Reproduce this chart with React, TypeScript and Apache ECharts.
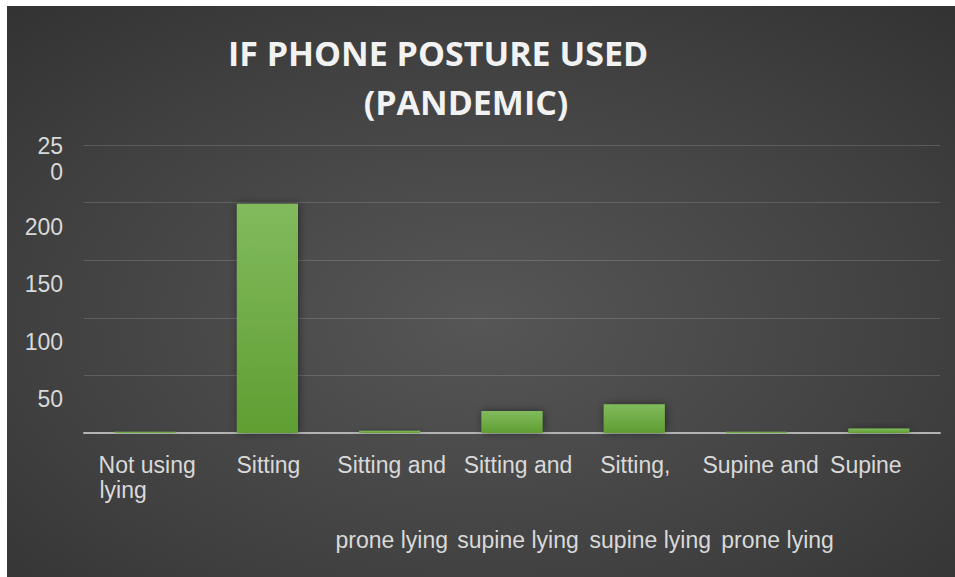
import React, { useEffect, useRef } from "react";
import * as echarts from "echarts";

// Chart content
const TITLE_LINES = ["IF PHONE POSTURE USED", "(PANDEMIC)"];
const CATEGORIES = [
  "Not using\nlying",
  "Sitting",
  "Sitting and\n\n\nprone lying",
  "Sitting and\n\n\nsupine lying",
  "Sitting,\n\n\nsupine lying",
  "Supine and\n\n\nprone lying",
  "Supine",
];
const COUNTS = [1, 199, 2, 19, 25, 1, 4];
const Y_MAX = 250;
const Y_STEP = 50;

// Horizontal nudges (px) for each label line, per category
const LABEL_NUDGE: number[][] = [
  [2, -22],
  [1],
  [2, 0, 0, 2],
  [6, 0, 0, 6],
  [1, 0, 0, 16],
  [4, 0, 0, 21],
  [-13],
];

const LABEL_FONT = "'Liberation Sans', Arial, sans-serif";
const LABEL_COLOR = "#d9d9d9";
const TITLE_FONT = "bold 34px 'Open Sans', sans-serif";

function buildRich() {
  const rich: Record<string, any> = {};
  CATEGORIES.forEach((c, i) => {
    c.split("\n").forEach((line, j) => {
      if (!line) return;
      const d = (LABEL_NUDGE[i] && LABEL_NUDGE[i][j]) || 0;
      rich[`c${i}_${j}`] = {
        fontSize: 23,
        lineHeight: 25,
        color: LABEL_COLOR,
        fontFamily: LABEL_FONT,
        align: "center",
        padding: d >= 0 ? [0, 0, 0, 2 * d] : [0, -2 * d, 0, 0],
      };
    });
  });
  return rich;
}

function formatCategory(value: string, index: number) {
  return value
    .split("\n")
    .map((line, j) => (line ? `{c${index}_${j}|${line}}` : ""))
    .join("\n");
}

// The top value label wraps onto two lines ("25" / "0")
function formatValue(v: number) {
  if (v === 0) return "";
  if (v === Y_MAX) {
    const s = String(v);
    return `{hi|${s.slice(0, 2)}}\n{lo|${s.slice(2)}}`;
  }
  return String(v);
}

export default function App() {
  const ref = useRef<HTMLDivElement>(null);

  useEffect(() => {
    if (!ref.current) return;
    const chart = echarts.init(ref.current, null, { renderer: "svg" });
    chart.setOption({
      animation: false,
      backgroundColor: {
        type: "radial",
        x: 0.5,
        y: 0.55,
        r: 1.0,
        colorStops: [
          { offset: 0, color: "#565656" },
          { offset: 0.5, color: "#3f3f3f" },
          { offset: 0.83, color: "#2e2e2e" },
          { offset: 1, color: "#272727" },
        ],
      },
      graphic: [
        {
          type: "text",
          x: 431,
          y: 47,
          style: {
            text: TITLE_LINES[0],
            fill: "#f2f2f2",
            font: TITLE_FONT,
            textAlign: "center",
            textVerticalAlign: "middle",
          },
        },
        {
          type: "text",
          x: 459,
          y: 96,
          style: {
            text: TITLE_LINES[1],
            fill: "#f2f2f2",
            font: TITLE_FONT,
            textAlign: "center",
            textVerticalAlign: "middle",
          },
        },
      ],
      grid: { left: 77, right: 15, top: 139, bottom: 144, containLabel: false },
      xAxis: {
        type: "category",
        data: CATEGORIES,
        axisTick: { show: false },
        axisLine: { lineStyle: { color: "#b3b3b3", width: 2 } },
        axisLabel: {
          interval: 0,
          margin: 19,
          lineHeight: 25,
          fontSize: 23,
          color: LABEL_COLOR,
          fontFamily: LABEL_FONT,
          formatter: formatCategory,
          rich: buildRich(),
        },
      },
      yAxis: {
        type: "value",
        min: 0,
        max: Y_MAX,
        interval: Y_STEP,
        axisLine: { show: false },
        axisTick: { show: false },
        splitLine: { lineStyle: { color: "rgba(255,255,255,0.15)", width: 1 } },
        axisLabel: {
          margin: 21,
          fontSize: 23,
          lineHeight: 48,
          verticalAlign: "top",
          color: LABEL_COLOR,
          fontFamily: LABEL_FONT,
          showMaxLabel: true,
          formatter: formatValue,
          rich: {
            hi: {
              fontSize: 23,
              lineHeight: 2,
              color: LABEL_COLOR,
              fontFamily: LABEL_FONT,
              align: "right",
            },
            lo: {
              fontSize: 23,
              lineHeight: 49,
              color: LABEL_COLOR,
              fontFamily: LABEL_FONT,
              align: "right",
            },
          },
        },
      },
      series: [
        {
          type: "bar",
          data: COUNTS,
          barWidth: "50%",
          itemStyle: {
            color: new echarts.graphic.LinearGradient(0, 0, 0, 1, [
              { offset: 0, color: "#81bb5d" },
              { offset: 1, color: "#5f9e32" },
            ]),
            shadowBlur: 8,
            shadowColor: "rgba(0,0,0,0.45)",
            shadowOffsetX: 1,
          },
        },
      ],
    });
    return () => chart.dispose();
  }, []);

  return (
    <div
      style={{
        position: "absolute",
        left: 0,
        top: 0,
        width: 955,
        height: 577,
        background: "#ffffff",
      }}
    >
      <div
        ref={ref}
        style={{ position: "absolute", left: 7, top: 6, width: 948, height: 571 }}
      />
    </div>
  );
}
